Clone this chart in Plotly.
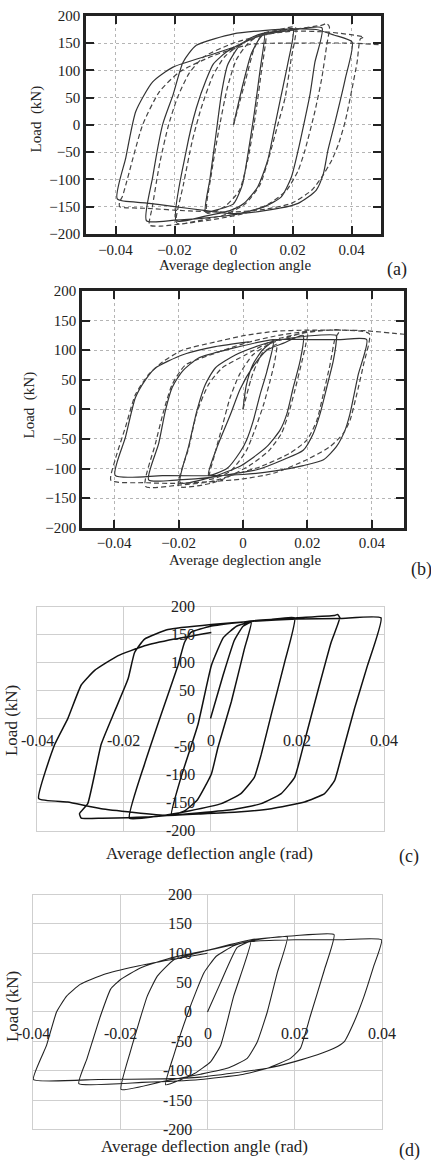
import plotly.graph_objects as go

W, H = 431, 1162

# ---------------- data (deflection angle [rad], load [kN]) ----------------
a_solid = [
    (0, 0), (0.003, 70), (0.006, 130), (0.009, 160), (0.0105, 167),
    (0.009, 100), (0.007, 20), (0.005, -50), (0.003, -110), (0, -145), (-0.005, -155), (-0.0095, -160),
    (-0.008, -100), (-0.006, -20), (-0.004, 60), (-0.002, 110), (0.002, 145), (0.006, 160), (0.01, 168),
    (0.015, 172), (0.0202, 176),
    (0.0185, 115), (0.0162, 55), (0.0139, -5), (0.0116, -65), (0.0082, -114), (0.0036, -144), (-0.001, -157),
    (-0.01, -168), (-0.0194, -176),
    (-0.016, -47), (-0.0126, 31), (-0.0091, 85), (-0.0068, 112), (-0.0023, 134), (0.003, 150), (0.01, 165),
    (0.02, 174), (0.03, 178),
    (0.0276, 115), (0.0259, 55), (0.0236, -5), (0.0219, -47), (0.0196, -96), (0.0162, -132), (0.0105, -150),
    (0, -165), (-0.01, -171), (-0.02, -175), (-0.0295, -176),
    (-0.0274, -96), (-0.024, 1), (-0.0205, 55), (-0.0171, 115), (-0.0126, 146), (0, 167), (0.01, 173),
    (0.02, 176), (0.028, 175), (0.034, 165), (0.0402, 152),
    (0.0379, 85), (0.0345, 7), (0.032, -47), (0.0305, -89), (0.028, -120), (0.0219, -144), (0.01, -158),
    (0, -163), (-0.01, -157), (-0.02, -150), (-0.03, -143), (-0.0394, -136),
    (-0.0365, -60), (-0.0331, 25), (-0.0274, 79), (-0.0205, 106), (-0.0068, 130), (0.003, 148),
]
a_dash = [
    (0, 0), (0.004, 80), (0.007, 140), (0.009, 160), (0.011, 168),
    (0.0095, 100), (0.0075, 20), (0.005, -60), (0.002, -120), (-0.003, -150), (-0.009, -162),
    (-0.0075, -90), (-0.005, -10), (-0.002, 70), (0.001, 120), (0.005, 150), (0.01, 168), (0.015, 174),
    (0.021, 179),
    (0.0195, 120), (0.0175, 50), (0.015, 0), (0.012, -60), (0.009, -110), (0.004, -145), (-0.003, -165),
    (-0.012, -176), (-0.0185, -182), (-0.0195, -178),
    (-0.017, -110), (-0.014, -30), (-0.011, 30), (-0.007, 90), (-0.003, 125), (0.003, 150), (0.01, 165),
    (0.02, 175), (0.03, 183), (0.0316, 186), (0.0325, 180),
    (0.0316, 146), (0.0299, 85), (0.0276, 25), (0.0242, -47), (0.0219, -84), (0.018, -120), (0.012, -145),
    (0.004, -162), (-0.005, -172), (-0.015, -180), (-0.025, -186), (-0.0285, -184),
    (-0.0275, -150), (-0.025, -70), (-0.022, 0), (-0.019, 50), (-0.015, 95), (-0.01, 125), (0, 150),
    (0.01, 165), (0.02, 172), (0.0328, 170), (0.0442, 161),
    (0.043, 158), (0.0419, 115), (0.0402, 67), (0.0379, 7), (0.0356, -35), (0.0333, -65), (0.0299, -96),
    (0.0265, -120), (0.0196, -144), (0.0105, -155), (0, -160), (-0.015, -158), (-0.03, -153),
    (-0.0386, -150), (-0.0386, -141),
    (-0.0377, -132), (-0.0308, 0), (-0.0251, 61), (-0.0183, 97), (-0.0068, 127), (0.006, 148), (0.02, 150),
    (0.04, 150), (0.05, 147),
]
b_solid = [
    (0, 0), (0.001, 40), (0.003, 75), (0.006, 100), (0.0094, 114),
    (0.0074, 64), (0.0053, 25), (0.0032, -19), (0.0011, -52), (-0.0009, -72), (-0.005, -100), (-0.0107, -111),
    (-0.0082, -66), (-0.004, -10), (-0.0009, 34), (0.0032, 73), (0.0074, 100), (0.0126, 112), (0.0187, 125),
    (0.0177, 81), (0.0156, 37), (0.0136, -8), (0.0115, -35), (0.0074, -63), (0.0022, -85), (-0.0009, -96),
    (-0.01, -115), (-0.0195, -124),
    (-0.0169, -63), (-0.0143, -2), (-0.0117, 42), (-0.0086, 70), (-0.0024, 92), (0.005, 108), (0.01, 116),
    (0.02, 124), (0.029, 125),
    (0.029, 117), (0.028, 81), (0.026, 37), (0.0239, -8), (0.0218, -41), (0.0187, -69), (0.0125, -85),
    (0.0043, -102), (-0.0009, -107), (-0.01, -115), (-0.02, -119), (-0.0293, -119),
    (-0.0262, -58), (-0.0241, -2), (-0.022, 37), (-0.0189, 64), (-0.0138, 87), (-0.0034, 103), (0.0093, 118),
    (0.02, 118), (0.03, 118), (0.0384, 118),
    (0.0358, 59), (0.0332, -8), (0.0317, -35), (0.029, -63), (0.025, -85), (0.0187, -95), (0.01, -104),
    (0, -110), (-0.0107, -112), (-0.025, -112), (-0.0397, -111.5),
    (-0.0365, -47), (-0.0334, 20), (-0.0303, 50), (-0.0272, 70), (-0.0189, 92), (-0.0086, 106), (0.0018, 114),
]
b_dash = [
    (0, 0), (0.003, 60), (0.006, 95), (0.009, 106), (0.0105, 110),
    (0.0098, 80), (0.0085, 50), (0.0065, 10), (0.004, -30), (0.001, -70), (-0.004, -105), (-0.0105, -118),
    (-0.009, -80), (-0.0065, -30), (-0.004, 20), (-0.001, 60), (0.003, 92), (0.008, 110), (0.012, 118),
    (0.02, 130),
    (0.0195, 110), (0.0183, 81), (0.016, 30), (0.014, -10), (0.012, -40), (0.008, -70), (0.002, -95),
    (-0.005, -115), (-0.01, -125), (-0.02, -130),
    (-0.0169, -66), (-0.0143, -5), (-0.0107, 42), (-0.0065, 70), (0.0007, 92), (0.01, 118), (0.02, 130),
    (0.03, 134),
    (0.0286, 120), (0.027, 75), (0.0249, 25), (0.0229, -19), (0.0198, -52), (0.0146, -74), (0.0053, -97),
    (-0.0009, -107), (-0.01, -122), (-0.02, -128), (-0.0303, -130),
    (-0.0272, -58), (-0.0246, -2), (-0.022, 42), (-0.0179, 75), (-0.0086, 95), (0.0007, 112), (0.01, 124),
    (0.02, 132), (0.03, 134), (0.0392, 128),
    (0.0374, 75), (0.0353, 25), (0.0332, -19), (0.0311, -41), (0.027, -63), (0.0198, -85), (0.0094, -108),
    (-0.0009, -118), (-0.02, -125), (-0.03, -124), (-0.041, -120),
    (-0.0397, -85), (-0.0365, -30), (-0.0334, 25), (-0.0293, 59), (-0.025, 80), (-0.0189, 100),
    (-0.0086, 114), (0.0007, 125), (0.01, 132), (0.02, 134), (0.03, 134), (0.038, 133), (0.05, 127),
]
c_curve = [
    (0, 0), (0.003, 80), (0.0055, 140), (0.0075, 165), (0.0094, 172),
    (0.0078, 124), (0.0048, 30), (0.0017, -52), (0.0002, -99), (-0.003, -145), (-0.006, -165), (-0.009, -172),
    (-0.0068, -105), (-0.0029, -11), (0.0002, 95), (0.003, 145), (0.006, 165), (0.0094, 173), (0.014, 177),
    (0.0194, 180),
    (0.0171, 101), (0.014, 7), (0.0117, -64), (0.0101, -105), (0.007, -134), (0.0025, -152), (-0.005, -165),
    (-0.012, -174), (-0.0187, -178),
    (-0.0152, -81), (-0.0114, 7), (-0.0075, 95), (-0.006, 136), (-0.0045, 154), (0, 165), (0.01, 175),
    (0.02, 180), (0.0285, 184), (0.0293, 186), (0.0298, 180),
    (0.0278, 136), (0.0247, 48), (0.0217, -40), (0.0194, -105), (0.0163, -134), (0.0117, -152),
    (0.0048, -163), (-0.005, -170), (-0.015, -176), (-0.025, -178), (-0.0298, -178), (-0.0302, -170),
    (-0.0283, -152), (-0.0252, -46), (-0.0221, 13), (-0.019, 71), (-0.0175, 118), (-0.0152, 142),
    (-0.0098, 159), (0.0002, 168), (0.01, 174), (0.02, 178), (0.03, 179), (0.0393, 180),
    (0.0362, 95), (0.0332, 18), (0.0301, -70), (0.0286, -111), (0.0263, -134), (0.0217, -149), (0.014, -161),
    (0.0063, -167), (-0.0014, -170), (-0.01, -173), (-0.0252, -161), (-0.0329, -149), (-0.0396, -143),
    (-0.0359, -46), (-0.0329, 0), (-0.0298, 60), (-0.0267, 86), (-0.0214, 112), (-0.0152, 130),
    (-0.0083, 142), (0.0002, 154),
]
d_curve = [
    (0, 0), (0.003, 50), (0.0068, 110), (0.0099, 120),
    (0.0083, 78), (0.006, 27), (0.0045, -17), (0.003, -57), (0.0007, -85), (-0.003, -105), (-0.0096, -124),
    (-0.0077, -73), (-0.0047, -6), (-0.0024, 39), (-0.0008, 67), (0.002, 95), (0.006, 113), (0.0099, 121),
    (0.014, 126), (0.0183, 128),
    (0.016, 67), (0.0137, 0), (0.0114, -51), (0.0091, -79), (0.0045, -96), (-0.0016, -106), (-0.01, -118),
    (-0.0198, -132),
    (-0.0177, -68), (-0.0138, 27), (-0.0115, 61), (-0.0077, 89), (0, 105), (0.01, 123), (0.02, 130),
    (0.029, 132),
    (0.0268, 72), (0.0236, -6), (0.0213, -62), (0.019, -79), (0.0137, -96), (0.0076, -107), (-0.0016, -115),
    (-0.015, -120), (-0.0295, -122),
    (-0.0276, -79), (-0.0245, -6), (-0.0222, 39), (-0.02, 55), (-0.0154, 75), (-0.0085, 92), (0, 105),
    (0.01, 120), (0.02, 123), (0.03, 123), (0.0399, 123),
    (0.0381, 78), (0.0359, 27), (0.0336, -17), (0.0313, -51), (0.029, -62), (0.0252, -73), (0.0198, -85),
    (0.0137, -96), (0.006, -104), (-0.0016, -111), (-0.01, -114), (-0.025, -115), (-0.0399, -115),
    (-0.0369, -57), (-0.0346, 0), (-0.0323, 27), (-0.0292, 47), (-0.0238, 64), (-0.0162, 78), (-0.0085, 89),
    (0, 100),
]

x_ticks = [-0.04, -0.02, 0, 0.02, 0.04]
x_ticktext_ab = ["\u22120.04", "\u22120.02", "0", "0.02", "0.04"]
x_ticktext_cd = ["-0.04", "-0.02", "0", "0.02", "0.04"]
y_ticks = [-200, -150, -100, -50, 0, 50, 100, 150, 200]
y_ticktext_ab = ["\u2212200", "\u2212150", "\u2212100", "\u221250", "0", "50", "100", "150", "200"]
y_ticktext_cd = ["-200", "-150", "-100", "-50", "0", "50", "100", "150", "200"]

SERIF = "Liberation Serif"
INK = "#222222"
SMOOTH_AB = 0.6
SMOOTH_CD = 0.4


def xs(pts):
    return [p[0] for p in pts]


def ys(pts):
    return [p[1] for p in pts]


def dx(l, r):
    return [l / W, r / W]


def dy(t, b):
    return [1 - b / H, 1 - t / H]


fig = go.Figure()

# panel (a)
fig.add_trace(go.Scatter(x=xs(a_solid), y=ys(a_solid), mode="lines", xaxis="x", yaxis="y",
                         line=dict(color="#333", width=1.2, shape="spline", smoothing=SMOOTH_AB)))
fig.add_trace(go.Scatter(x=xs(a_dash), y=ys(a_dash), mode="lines", xaxis="x", yaxis="y",
                         line=dict(color="#444", width=1.2, dash="5px,3px", shape="spline", smoothing=SMOOTH_AB)))
# panel (b)
fig.add_trace(go.Scatter(x=xs(b_solid), y=ys(b_solid), mode="lines", xaxis="x2", yaxis="y2",
                         line=dict(color="#333", width=1.2, shape="spline", smoothing=SMOOTH_AB)))
fig.add_trace(go.Scatter(x=xs(b_dash), y=ys(b_dash), mode="lines", xaxis="x2", yaxis="y2",
                         line=dict(color="#444", width=1.2, dash="5px,3px", shape="spline", smoothing=SMOOTH_AB)))
# panel (c)
fig.add_trace(go.Scatter(x=xs(c_curve), y=ys(c_curve), mode="lines", xaxis="x3", yaxis="y3",
                         line=dict(color="#111", width=1.5, shape="spline", smoothing=SMOOTH_CD)))
# panel (d)
fig.add_trace(go.Scatter(x=xs(d_curve), y=ys(d_curve), mode="lines", xaxis="x4", yaxis="y4",
                         line=dict(color="#222", width=1.1, shape="spline", smoothing=SMOOTH_CD)))


def framed_x(dom, anchor, rng):
    return dict(domain=dom, anchor=anchor, range=rng, tickvals=x_ticks, ticktext=x_ticktext_ab,
                ticks="inside", ticklen=8, tickwidth=2, tickcolor=INK,
                showline=True, linewidth=2.5, linecolor=INK, mirror="allticks",
                showgrid=True, gridcolor="#b5b5b5", griddash="dot", gridwidth=1, zeroline=False,
                tickfont=dict(family=SERIF, size=15, color=INK))


def framed_y(dom, anchor):
    return dict(domain=dom, anchor=anchor, range=[-200, 200], tickvals=y_ticks, ticktext=y_ticktext_ab,
                ticks="inside", ticklen=8, tickwidth=2, tickcolor=INK,
                showline=True, linewidth=2.5, linecolor=INK, mirror="allticks",
                showgrid=True, gridcolor="#b5b5b5", griddash="dot", gridwidth=1, zeroline=False,
                tickfont=dict(family=SERIF, size=15, color=INK))


def excel_x(dom, anchor):
    return dict(domain=dom, anchor=anchor, range=[-0.04, 0.04], tickvals=x_ticks, showticklabels=False,
                ticks="", showline=True, linewidth=1, linecolor="#cfcfcf", mirror=True,
                showgrid=True, gridcolor="#cfcfcf", gridwidth=1, zeroline=False)


def excel_y(dom, anchor):
    return dict(domain=dom, anchor=anchor, range=[-200, 200], tickvals=y_ticks, showticklabels=False,
                ticks="", showline=True, linewidth=1, linecolor="#cfcfcf", mirror=True,
                showgrid=True, gridcolor="#cfcfcf", gridwidth=1, zeroline=False)


annotations = []


def label(text, x, y, size, angle=0, xanchor="center"):
    annotations.append(dict(text=text, x=x / W, y=1 - y / H, xref="paper", yref="paper", showarrow=False,
                            textangle=angle, xanchor=xanchor, yanchor="middle",
                            font=dict(family=SERIF, size=size, color=INK)))


# axis titles and panel letters
label("Load  (kN)", 36, 113, 15, -90)
label("Average deglection angle", 235, 261, 15)
label("(a)", 397, 265, 18)
label("Load  (kN)", 29, 403, 15, -90)
label("Average deglection angle", 245, 560, 15)
label("(b)", 421, 569, 18)
label("Load (kN)", 11, 723, 17, -90)
label("Average deflection angle (rad)", 209, 857, 17)
label("(c)", 409, 860, 18)
label("Load (kN)", 12, 1013, 17, -90)
label("Average deflection angle (rad)", 204, 1154, 17)
label("(d)", 409, 1158, 18)

# Excel-style tick labels sitting on the axes crossing at the origin
for xr, yr in (("x3", "y3"), ("x4", "y4")):
    for v, t in zip(x_ticks, x_ticktext_cd):
        annotations.append(dict(text=t, x=v, y=0, xref=xr, yref=yr, showarrow=False, yshift=-22,
                                xanchor="center", yanchor="middle",
                                font=dict(family=SERIF, size=16, color=INK)))
    for v, t in zip(y_ticks, y_ticktext_cd):
        annotations.append(dict(text=t, x=0, y=v, xref=xr, yref=yr, showarrow=False, xshift=-14,
                                xanchor="right", yanchor="middle",
                                font=dict(family=SERIF, size=16, color=INK)))

fig.update_layout(
    width=W, height=H, margin=dict(l=0, r=0, t=0, b=0),
    paper_bgcolor="white", plot_bgcolor="white", showlegend=False,
    xaxis=framed_x(dx(86, 381), "y", [-0.05, 0.05]),
    yaxis=framed_y(dy(8, 229), "x"),
    xaxis2=framed_x(dx(82, 404), "y2", [-0.05, 0.05]),
    yaxis2=framed_y(dy(287, 527), "x2"),
    xaxis3=excel_x(dx(37, 384), "y3"),
    yaxis3=excel_y(dy(607, 834), "x3"),
    xaxis4=excel_x(dx(33, 382), "y4"),
    yaxis4=excel_y(dy(899, 1137), "x4"),
    annotations=annotations,
)

fig.write_html("out.html")
